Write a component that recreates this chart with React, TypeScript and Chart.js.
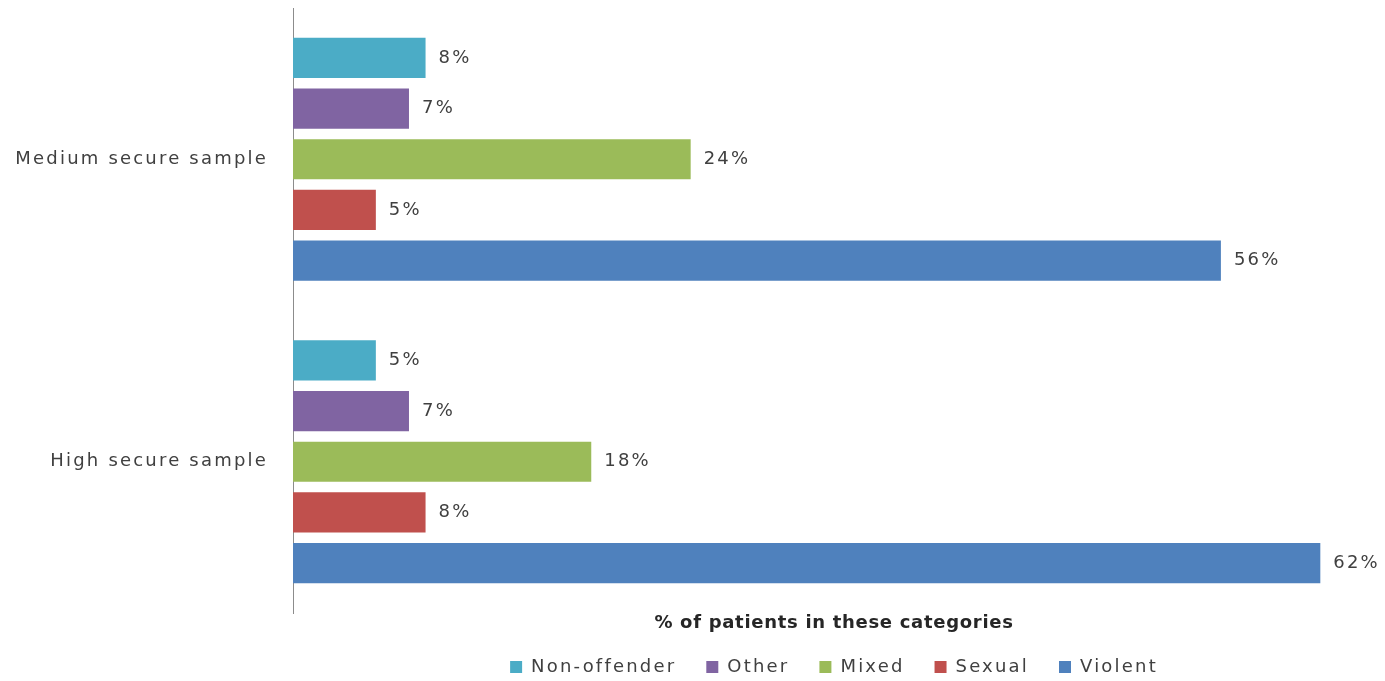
import React, { useEffect, useRef } from 'react';
import { Chart, registerables } from 'chart.js';

Chart.register(...registerables);

// Sample groups (y categories) and offence-type series, in percent
const categories = ['Medium secure sample', 'High secure sample'];
const seriesNames = ['Non-offender', 'Other', 'Mixed', 'Sexual', 'Violent'];
const nonOffender = [8, 5];
const other = [7, 7];
const mixed = [24, 18];
const sexual = [5, 8];
const violent = [56, 62];
const seriesColors = ['#4BACC6', '#8064A2', '#9BBB59', '#C0504D', '#4F81BD'];
const axisTitle = '% of patients in these categories';

const FONT = "'DejaVu Sans', sans-serif";
const TEXT_COLOR = '#404040';
const SPACING = '2.2px';
const TITLE_SPACING = '0.7px';

// Wide letter spacing for labels, value labels after each bar,
// then tighter spacing for the bold axis title drawn afterwards.
const labelPlugin = {
  id: 'barValueLabels',
  beforeLayout(chart: any) {
    chart.ctx.letterSpacing = SPACING;
  },
  beforeDraw(chart: any) {
    chart.ctx.letterSpacing = SPACING;
  },
  afterDatasetsDraw(chart: any) {
    const ctx = chart.ctx;
    ctx.save();
    ctx.letterSpacing = SPACING;
    ctx.font = `18px ${FONT}`;
    ctx.fillStyle = TEXT_COLOR;
    ctx.textAlign = 'left';
    ctx.textBaseline = 'middle';
    chart.data.datasets.forEach((ds: any, i: number) => {
      const meta = chart.getDatasetMeta(i);
      meta.data.forEach((bar: any, j: number) => {
        ctx.fillText(`${ds.data[j]}%`, bar.x + 13, bar.y);
      });
    });
    ctx.restore();
    ctx.letterSpacing = TITLE_SPACING;
  },
};

export default function App() {
  const ref = useRef<HTMLCanvasElement>(null);

  useEffect(() => {
    document.body.style.margin = '0';
    const values = [nonOffender, other, mixed, sexual, violent];
    const chart = new Chart(ref.current as HTMLCanvasElement, {
      type: 'bar',
      data: {
        labels: categories,
        datasets: seriesNames.map((name, i) => ({
          label: name,
          data: values[i],
          backgroundColor: seriesColors[i],
          borderColor: seriesColors[i],
          borderWidth: 0,
          categoryPercentage: 0.8375,
          barPercentage: 0.792,
        })),
      },
      options: {
        indexAxis: 'y',
        responsive: false,
        animation: false,
        events: [],
        layout: { padding: { top: 8, right: 10, bottom: 0, left: 0 } },
        scales: {
          x: {
            min: 0,
            max: 65.3,
            grid: { display: false, z: 1 },
            border: { display: false },
            ticks: { display: false },
            title: {
              display: true,
              text: axisTitle,
              color: '#262626',
              font: { family: FONT, size: 18, weight: 'bold' },
              padding: { top: 0, bottom: -6.5 },
            },
            afterFit(scale: any) {
              scale.height = 15;
            },
          },
          y: {
            grid: { display: false, drawTicks: false },
            border: { display: true, color: '#8C8C8C', width: 1 },
            ticks: {
              color: TEXT_COLOR,
              font: { family: FONT, size: 18 },
              padding: 25,
            },
            afterFit(scale: any) {
              scale.width = 293;
              scale.paddingTop = 0;
              scale.paddingBottom = 0;
            },
          },
        },
        plugins: {
          tooltip: { enabled: false },
          legend: {
            position: 'bottom',
            fullSize: false,
            maxHeight: 53,
            labels: {
              color: TEXT_COLOR,
              font: { family: FONT, size: 18 },
              boxWidth: 12,
              boxHeight: 12,
              padding: 30,
            },
          },
        },
      } as any,
      plugins: [labelPlugin],
    });
    return () => chart.destroy();
  }, []);

  return (
    <div style={{ width: 1385, height: 681 }}>
      <canvas ref={ref} width={1385} height={681} style={{ display: 'block' }} />
    </div>
  );
}
